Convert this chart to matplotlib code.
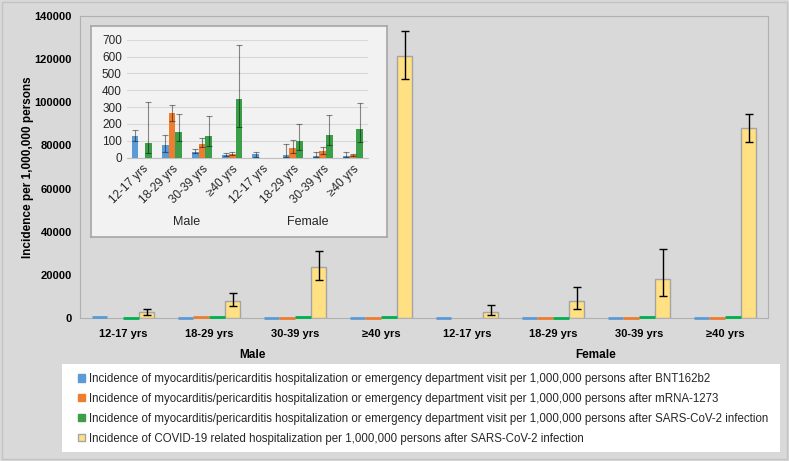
import matplotlib.pyplot as plt
import numpy as np
from matplotlib.patches import Patch, Rectangle

plt.rcParams['font.family'] = ['Liberation Sans', 'DejaVu Sans']

groups = ['12-17 yrs', '18-29 yrs', '30-39 yrs', '≥40 yrs',
          '12-17 yrs', '18-29 yrs', '30-39 yrs', '≥40 yrs']
sexes = ['Male', 'Female']

# myocarditis/pericarditis per 1,000,000 persons (value, lower, upper)
bnt = [131, 73, 36, 16, 20, 16, 12, 10]
bnt_lo = [101, 36, 26, 10, 6, 4, 4, 4]
bnt_hi = [162, 133, 50, 26, 36, 79, 32, 32]

mrna = [0, 263, 83, 24, 0, 55, 40, 18]
mrna_lo = [0, 220, 61, 16, 0, 30, 22, 12]
mrna_hi = [0, 311, 115, 32, 0, 103, 63, 22]

sars = [87, 154, 131, 346, 0, 99, 137, 172]
sars_lo = [26, 97, 71, 180, 0, 44, 75, 91]
sars_hi = [330, 257, 246, 671, 0, 202, 251, 323]

# COVID-19 related hospitalization per 1,000,000 persons
covid = [2800, 8140, 23600, 121200, 3050, 7860, 18040, 87900]
covid_lo = [1400, 5700, 17600, 110800, 1500, 4300, 10200, 81400]
covid_hi = [4450, 11550, 31000, 132800, 6000, 14350, 31900, 94650]

labels = [
    'Incidence of myocarditis/pericarditis hospitalization or emergency department visit per 1,000,000 persons after BNT162b2',
    'Incidence of myocarditis/pericarditis hospitalization or emergency department visit per 1,000,000 persons after mRNA-1273',
    'Incidence of myocarditis/pericarditis hospitalization or emergency department visit per 1,000,000 persons after SARS-CoV-2 infection',
    'Incidence of COVID-19 related hospitalization per 1,000,000 persons after SARS-CoV-2 infection',
]
colors = ['#5b9bd5', '#ed7d31', '#3c9e48', '#ffe083']
main_colors = ['#5b9bd5', '#ed7d31', '#00b050']


def err(v, lo, hi):
    v, lo, hi = map(np.array, (v, lo, hi))
    return np.vstack([v - lo, hi - v])


W, H = 789, 461
fig = plt.figure(figsize=(W / 100, H / 100), dpi=100)
fig.patch.set_facecolor('#d9d9d9')
fig.patches.append(Rectangle((2 / W, 2 / H), 1 - 4 / W, 1 - 4 / H, transform=fig.transFigure,
                             facecolor='none', edgecolor='#c4c4c4', linewidth=1))

x = np.arange(len(groups))

# main chart
ax = fig.add_axes([80 / W, 1 - 318.3 / H, 688 / W, 302.6 / H])
ax.set_facecolor('#d9d9d9')
w = 0.183
series = [(bnt, bnt_lo, bnt_hi), (mrna, mrna_lo, mrna_hi), (sars, sars_lo, sars_hi)]
for i, (v, lo, hi) in enumerate(series):
    xs = x + (i - 1.5) * w
    ax.bar(xs, v, w, color=main_colors[i], zorder=3)
    # the bars are only a few units tall at this scale: outline their tops so they show
    nz = np.array(v) > 0
    ax.hlines(np.array(v)[nz] + 250, xs[nz] - w / 2, xs[nz] + w / 2, colors=main_colors[i],
              linewidth=2, zorder=5, capstyle='butt', clip_on=False)
ax.bar(x + 1.5 * w, covid, w, color=colors[3], edgecolor='#a5a5a5', linewidth=1, zorder=3,
       yerr=err(covid, covid_lo, covid_hi), capsize=3,
       error_kw=dict(ecolor='black', elinewidth=1, capthick=1, zorder=4))
ax.set_xlim(-0.5, 7.5)
ax.set_ylim(0, 140000)
ax.set_yticks(np.arange(0, 140001, 20000))
ax.set_xticks(x)
ax.set_xticklabels(groups, fontweight='bold', fontsize=8)
ax.tick_params(axis='y', labelsize=8, length=0, pad=6)
ax.tick_params(axis='x', length=0, pad=8)
for t in ax.get_yticklabels():
    t.set_fontweight('bold')
for s in ax.spines.values():
    s.set_color('#b0b0b0')
ax.set_ylabel('Incidence per 1,000,000 persons', fontweight='bold', fontsize=8.5, labelpad=0.5)
for k, sx in enumerate(sexes):
    ax.text(1.5 + 4 * k, -0.12, sx, transform=ax.get_xaxis_transform(),
            ha='center', va='center', fontweight='bold', fontsize=8.5)

# inset background
bg = fig.add_axes([91 / W, 1 - 236.7 / H, 296 / W, 211 / H])
bg.set_facecolor('#f2f2f2')
bg.set_xticks([])
bg.set_yticks([])
for s in bg.spines.values():
    s.set_color('#a6a6a6')
    s.set_linewidth(1.2)

# inset chart
ins = fig.add_axes([126.7 / W, 1 - 157.7 / H, 241.3 / W, 118 / H])
ins.patch.set_alpha(0)
wi = 0.22
for i, (v, lo, hi) in enumerate(series):
    xs = x + (i - 1) * wi
    ins.bar(xs, v, wi, color=colors[i], zorder=3)
    nz = np.array(v) > 0
    e = err(v, lo, hi)
    ins.errorbar(xs[nz], np.array(v)[nz], yerr=e[:, nz], fmt='none', capsize=2.5,
                 ecolor=(0, 0, 0, 0.45), elinewidth=0.8, capthick=0.8, zorder=4)
ins.set_xlim(-0.5, 7.5)
ins.set_ylim(0, 700)
ins.set_yticks(np.arange(0, 701, 100))
ins.yaxis.grid(True, color='#d9d9d9', linewidth=0.8, zorder=0)
ins.set_xticks(x)
ins.set_xticklabels(groups, rotation=45, ha='right', rotation_mode='anchor', fontsize=8.5)
ins.tick_params(length=0, labelsize=8.5, colors='#262626')
ins.tick_params(axis='x', pad=4)
for s in ['top', 'right', 'left']:
    ins.spines[s].set_visible(False)
ins.spines['bottom'].set_color('#bfbfbf')
for k, sx in enumerate(sexes):
    ins.text(1.5 + 4 * k, 1 - (222 - 39.7) / 118, sx, transform=ins.get_xaxis_transform(),
             ha='center', va='center', fontsize=9, color='#262626')

# legend
fig.patches.append(Rectangle((62 / W, 1 - 452 / H), 718 / W, 88 / H, transform=fig.transFigure,
                             facecolor='white', edgecolor='none', zorder=0))
handles = [Patch(facecolor=colors[i], edgecolor='#a5a5a5' if i == 3 else colors[i])
           for i in range(4)]
leg = fig.legend(handles, labels, loc='upper left', bbox_to_anchor=(78 / W, 1 - 373 / H),
                 fontsize=8.3, frameon=False, handlelength=0.6,
                 handleheight=0.6, handletextpad=0.35, labelspacing=0.68,
                 borderpad=0, borderaxespad=0)
for t in leg.get_texts():
    t.set_color('#262626')

fig.savefig('out.png', dpi=100, facecolor=fig.get_facecolor())
